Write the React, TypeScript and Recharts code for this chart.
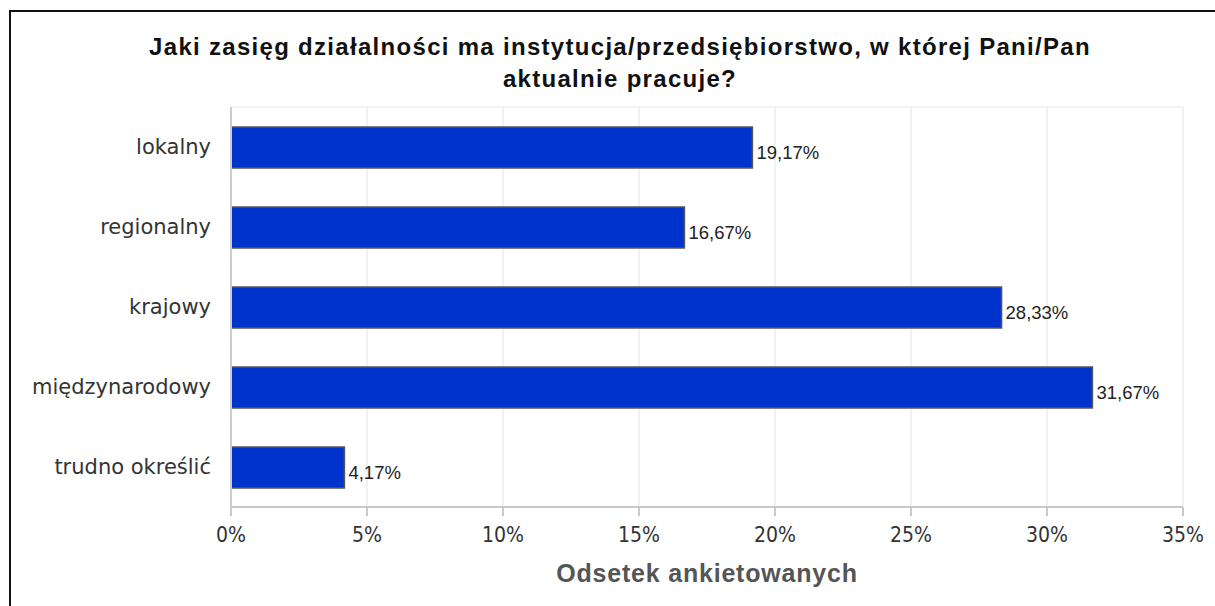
import { BarChart, Bar, XAxis, YAxis, CartesianGrid, LabelList } from "recharts";

const categories = ["lokalny", "regionalny", "krajowy", "międzynarodowy", "trudno określić"];
const shares = [19.17, 16.67, 28.33, 31.67, 4.17];
const xTicks = [0, 5, 10, 15, 20, 25, 30, 35];

const TITLE_1 = "Jaki zasięg działalności ma instytucja/przedsiębiorstwo, w której Pani/Pan";
const TITLE_2 = "aktualnie pracuje?";
const X_TITLE = "Odsetek ankietowanych";

const data = categories.map((name, i) => ({ name, value: shares[i] }));

const fmtPct = (v: number) => v.toFixed(2).replace(".", ",") + "%";

function ValueLabel(props: any) {
  const { x, y, width, height, value } = props;
  return (
    <text
      x={x + width + 4}
      y={y + height / 2 + 11}
      fill="#222"
      fontSize={18.5}
      fontFamily="'Liberation Sans', Arial, sans-serif"
    >
      {fmtPct(value)}
    </text>
  );
}

export default function App() {
  const titleStyle = {
    position: "absolute" as const,
    left: 0,
    width: 1240,
    textAlign: "center" as const,
    fontFamily: "'Liberation Sans', Arial, sans-serif",
    fontWeight: 700,
    fontSize: 24,
    letterSpacing: "1.3px",
    lineHeight: "24px",
    color: "#111",
    whiteSpace: "nowrap" as const,
  };

  return (
    <div
      style={{
        position: "fixed",
        left: 0,
        top: 0,
        width: 1215,
        height: 606,
        overflow: "hidden",
        background: "#fff",
      }}
    >
      <div
        style={{
          position: "absolute",
          left: 9,
          top: 10,
          width: 1300,
          height: 700,
          borderTop: "2px solid #111",
          borderLeft: "2px solid #111",
        }}
      />
      <div style={{ ...titleStyle, top: 35 }}>{TITLE_1}</div>
      <div style={{ ...titleStyle, top: 67 }}>{TITLE_2}</div>
      <div style={{ position: "absolute", left: 0, top: 0 }}>
        <BarChart
          width={1215}
          height={606}
          data={data}
          layout="vertical"
          margin={{ top: 107, right: 32, bottom: 0, left: 0 }}
        >
          <CartesianGrid
            stroke="#e3e3e3"
            horizontal={true}
            vertical={true}
            horizontalCoordinatesGenerator={({ offset }: any) => [offset.top]}
          />
          <XAxis
            type="number"
            domain={[0, 35]}
            ticks={xTicks}
            tickFormatter={(v: number) => `${v}%`}
            height={99}
            axisLine={{ stroke: "#c8c8c8", strokeWidth: 2 }}
            tickLine={{ stroke: "#c8c8c8", strokeWidth: 2 }}
            tickSize={9}
            tickMargin={11}
            tick={{
              fill: "#333",
              fontSize: 21,
              fontFamily: "'DejaVu Sans Condensed', 'DejaVu Sans', sans-serif",
            }}
          />
          <YAxis
            type="category"
            dataKey="name"
            width={231}
            axisLine={{ stroke: "#cccccc", strokeWidth: 2 }}
            tickLine={false}
            tickSize={0}
            tickMargin={20}
            tick={{ fill: "#333", fontSize: 21, fontFamily: "'DejaVu Sans', sans-serif" }}
          />
          <Bar
            dataKey="value"
            fill="#0033cc"
            stroke="#555"
            strokeWidth={1.5}
            barSize={41}
            isAnimationActive={false}
          >
            <LabelList dataKey="value" content={ValueLabel} />
          </Bar>
        </BarChart>
      </div>
      <div
        style={{
          position: "absolute",
          left: 231,
          width: 952,
          top: 561,
          textAlign: "center",
          fontFamily: "'Liberation Sans', Arial, sans-serif",
          fontWeight: 700,
          fontSize: 25,
          letterSpacing: "0.8px",
          lineHeight: "25px",
          color: "#555",
          whiteSpace: "nowrap",
        }}
      >
        {X_TITLE}
      </div>
    </div>
  );
}
